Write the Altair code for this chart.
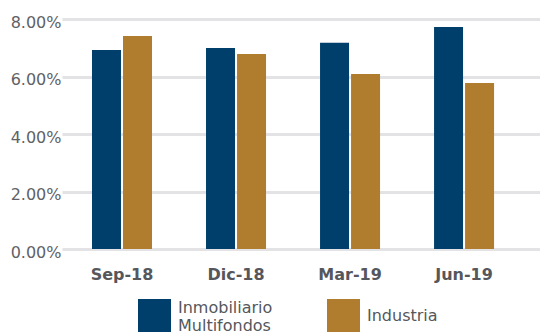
import altair as alt
import pandas as pd

periods = ["Sep-18", "Dic-18", "Mar-19", "Jun-19"]
series = ["Inmobiliario Multifondos", "Industria"]
inmobiliario = [0.0692, 0.0699, 0.0717, 0.0772]
industria = [0.0741, 0.0678, 0.0609, 0.0577]
y_ticks = [0.0, 0.02, 0.04, 0.06, 0.08]
colors = ["#003F6C", "#B07D2E"]

rows = []
for p, a, b in zip(periods, inmobiliario, industria):
    rows.append({"periodo": p, "serie": series[0], "valor": a})
    rows.append({"periodo": p, "serie": series[1], "valor": b})
df = pd.DataFrame(rows)

FONT = "DejaVu Sans"

x_enc = alt.X("periodo:N", sort=periods, title=None,
              scale=alt.Scale(paddingInner=0.4737, paddingOuter=0.333, align=0.395),
              axis=alt.Axis(labelAngle=0, labelFont=FONT, labelFontSize=16,
                            labelFontWeight="bold", labelColor="#55575C",
                            labelPadding=17, ticks=False, domain=False, grid=False))
xoff_enc = alt.XOffset("serie:N", sort=series,
                       scale=alt.Scale(domain=series, paddingInner=0.065, paddingOuter=0))
y_enc = alt.Y("valor:Q", title=None,
              scale=alt.Scale(domain=[0, 0.08], nice=False),
              axis=alt.Axis(values=y_ticks, format=".2%", labelFont=FONT,
                            labelFontSize=16, labelColor="#606266",
                            labelPadding=1, labelOffset=3, ticks=False,
                            domain=False, grid=True, gridColor="#E3E3E6",
                            gridWidth=3))

def legend(x, baseline):
    return alt.Legend(title=None, orient="none", legendX=x, legendY=280,
                      symbolType="square", symbolSize=1089, symbolStrokeWidth=0,
                      labelFont=FONT, labelFontSize=16, labelColor="#55575C",
                      labelOffset=7, padding=0, labelBaseline=baseline,
                      labelExpr="split(datum.label, ' ')")

base = alt.Chart(df)

layer_a = base.transform_filter(alt.datum.serie == series[0]).mark_bar().encode(
    x=x_enc, xOffset=xoff_enc, y=y_enc,
    color=alt.Color("serie:N", scale=alt.Scale(domain=[series[0]], range=[colors[0]]),
                    legend=legend(76, "bottom")),
)
layer_b = base.transform_filter(alt.datum.serie == series[1]).mark_bar().encode(
    x=x_enc, xOffset=xoff_enc, y=y_enc,
    color=alt.Color("serie:N", scale=alt.Scale(domain=[series[1]], range=[colors[1]]),
                    legend=legend(265, "middle")),
)

chart = alt.layer(layer_a, layer_b).resolve_scale(color="independent").resolve_legend(
    color="independent"
).properties(
    width=478, height=230,
    autosize=alt.AutoSizeParams(type="none"),
    padding={"left": 62, "top": 19, "right": 0, "bottom": 86},
).configure_view(stroke=None)

chart.save("out.html", embed_options={"renderer": "svg", "actions": False})
